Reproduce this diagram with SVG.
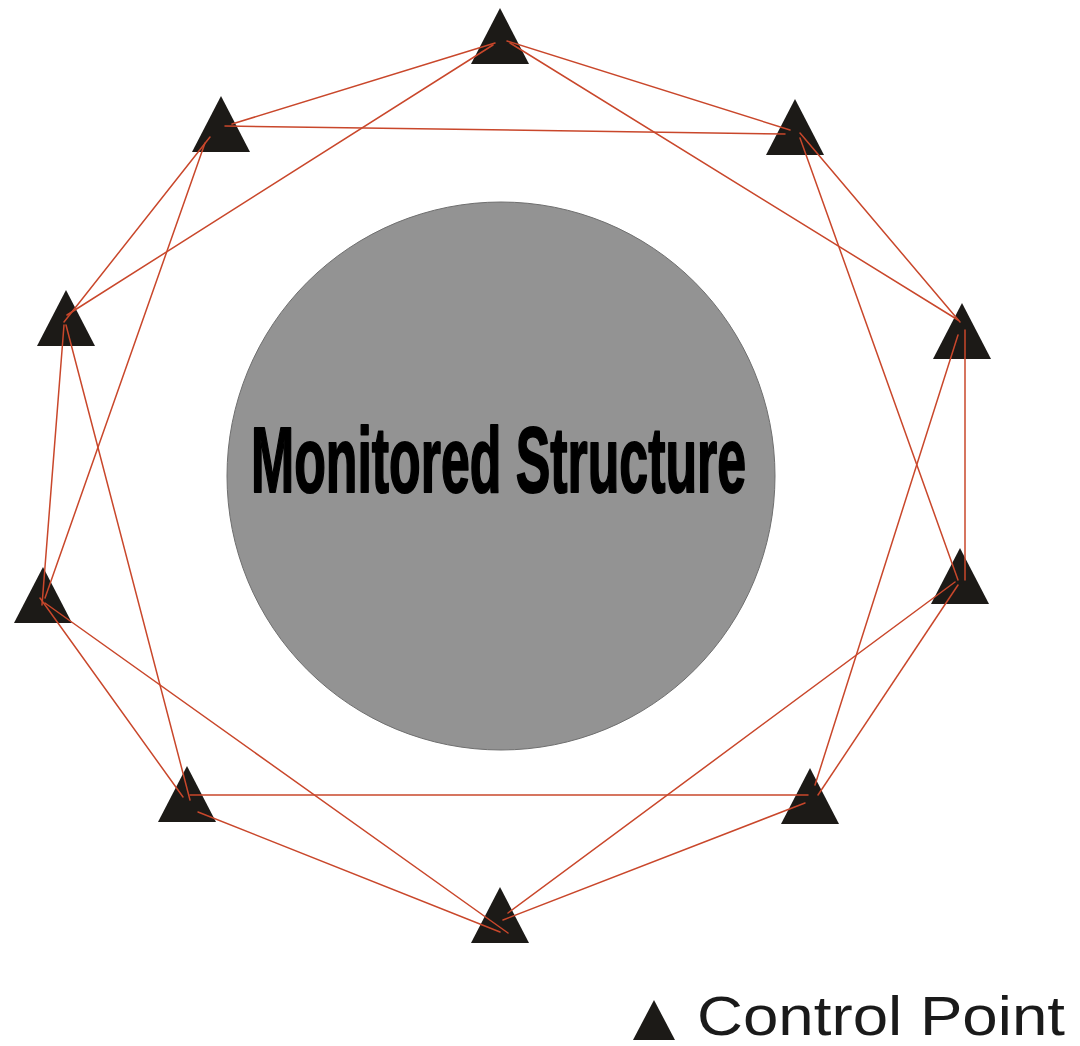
<svg xmlns="http://www.w3.org/2000/svg" width="1080" height="1046" viewBox="0 0 1080 1046">
<style>
.bg{fill:#ffffff}
.tri{fill:#1c1a17}
.edge{stroke:#c9472b;stroke-width:1.5;fill:none;stroke-linecap:round}
.title{font-family:"Liberation Sans",Arial,sans-serif;font-weight:bold;font-size:50px;fill:#000;stroke:#000;stroke-width:1.1;stroke-linejoin:round}
.legend{font-family:"Liberation Sans",Arial,sans-serif;font-size:55px;fill:#1a1a1a}
</style>
<defs>
<path id="tri" d="M0,0 L29,56 L-29,56 Z"/>
</defs>
<rect class="bg" x="0" y="0" width="1080" height="1046"/>
<g id="structure">
<circle cx="501" cy="476" r="274" fill="#939393" stroke="#6f6f6f" stroke-width="1"/>
<text class="title" transform="translate(251,492) scale(1,1.84)" x="0" y="0" textLength="495" lengthAdjust="spacingAndGlyphs">Monitored Structure</text>
</g>
<g id="nodes">
<g id="cp1"><use href="#tri" class="tri" x="500" y="8"/></g>
<g id="cp2"><use href="#tri" class="tri" x="221" y="96"/></g>
<g id="cp3"><use href="#tri" class="tri" x="795" y="99"/></g>
<g id="cp4"><use href="#tri" class="tri" x="66" y="290"/></g>
<g id="cp5"><use href="#tri" class="tri" x="962" y="303"/></g>
<g id="cp6"><use href="#tri" class="tri" x="43" y="567"/></g>
<g id="cp7"><use href="#tri" class="tri" x="960" y="548"/></g>
<g id="cp8"><use href="#tri" class="tri" x="187" y="766"/></g>
<g id="cp9"><use href="#tri" class="tri" x="810" y="768"/></g>
<g id="cp10"><use href="#tri" class="tri" x="500" y="887"/></g>
</g>
<g id="connectors">
<line class="edge" x1="495" y1="43" x2="232" y2="124"/>
<line class="edge" x1="493" y1="45" x2="67" y2="315"/>
<line class="edge" x1="507" y1="41" x2="790" y2="130"/>
<line class="edge" x1="510" y1="43" x2="958" y2="320"/>
<line class="edge" x1="225" y1="126" x2="785" y2="134"/>
<line class="edge" x1="210" y1="137" x2="64" y2="322"/>
<line class="edge" x1="205" y1="143" x2="45" y2="598"/>
<line class="edge" x1="800" y1="133" x2="960" y2="322"/>
<line class="edge" x1="800" y1="138" x2="958" y2="580"/>
<line class="edge" x1="64" y1="325" x2="42" y2="605"/>
<line class="edge" x1="66" y1="325" x2="190" y2="800"/>
<line class="edge" x1="965" y1="330" x2="965" y2="580"/>
<line class="edge" x1="958" y1="335" x2="815" y2="785"/>
<line class="edge" x1="40" y1="598" x2="183" y2="797"/>
<line class="edge" x1="45" y1="603" x2="508" y2="933"/>
<line class="edge" x1="958" y1="585" x2="818" y2="795"/>
<line class="edge" x1="955" y1="582" x2="508" y2="913"/>
<line class="edge" x1="190" y1="795" x2="808" y2="795"/>
<line class="edge" x1="198" y1="812" x2="500" y2="932"/>
<line class="edge" x1="805" y1="803" x2="503" y2="920"/>
</g>
<g id="legend">
<path class="tri" d="M654,1000 L675,1040 L633,1040 Z"/>
<text class="legend" x="697" y="1035" textLength="368" lengthAdjust="spacingAndGlyphs">Control Point</text>
</g>
</svg>
